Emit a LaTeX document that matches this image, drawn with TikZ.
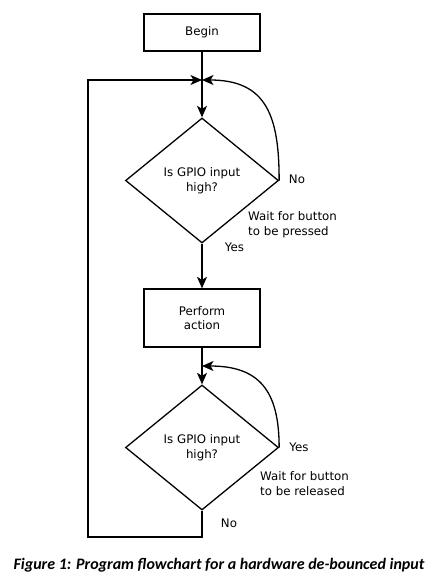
\documentclass[tikz,border=0pt]{standalone}
\usepackage{fontspec}
\setmainfont{DejaVu Sans}
\newfontfamily\capfont{Carlito}
\usetikzlibrary{shapes.geometric,arrows.meta}
\begin{document}
\begin{tikzpicture}[x=1pt,y=-1pt,
  every node/.style={font=\fontsize{11.8}{14.5}\selectfont, inner sep=0pt},
  box/.style={draw, line width=1.3pt, minimum width=116pt, align=center},
  dec/.style={draw, diamond, line width=1.3pt, minimum width=153pt, minimum height=125pt, align=center},
  conn/.style={line width=1.3pt},
  arr/.style={conn, -{Stealth[length=11.5pt,width=10pt,inset=3pt]}},
  lbl/.style={align=left, anchor=west}]
\useasboundingbox (0,0) rectangle (441,587);
\node[box, minimum height=37pt] (begin) at (202,32.5) {Begin};
\coordinate (j1) at (202,80);
\node[dec] (d1) at (202,180.5) {Is GPIO input\\high?};
\node[box, minimum height=58pt] (perform) at (202,318) {Perform\\action};
\coordinate (j2) at (202,366);
\node[dec] (d2) at (202,447.5) {Is GPIO input\\high?};
\coordinate (c1) at (202,537);
\coordinate (c2) at (88,537);
\coordinate (c3) at (88,80);

\draw[arr] (begin.south) -- (d1.north);
\draw[arr] (d1.east) to[out=90,in=0,looseness=1.3] (j1);
\draw[arr] (d1.south) -- (perform.north);
\draw[arr] (perform.south) -- (d2.north);
\draw[arr] (d2.east) to[out=90,in=0,looseness=1.3] (j2);
\draw[arr] (d2.south) -- (c1) -- (c2) -- (c3) -- (j1);

\node (no1) at (297,179) {No};
\node[lbl] (w1) at (248,224.5) {Wait for button\\to be pressed};
\node (yes1) at (234.5,247) {Yes};
\node (yes2) at (299,447) {Yes};
\node[lbl] (w2) at (260,483.5) {Wait for button\\to be released};
\node (no2) at (229,523) {No};
\node[font=\capfont\bfseries\itshape\fontsize{16}{19}\selectfont] (cap) at (219,565) {Figure 1: Program flowchart for a hardware de-bounced input};
\end{tikzpicture}
\end{document}
